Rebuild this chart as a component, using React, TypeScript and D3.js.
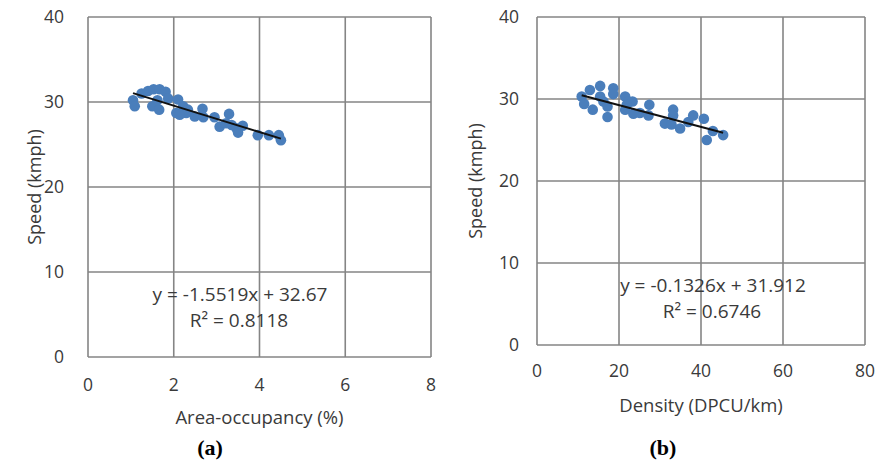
import React, { useEffect, useRef } from "react";
import * as d3 from "d3";

// panel (a): area occupancy (%) vs speed (kmph)
const occupancyX = [1.05, 1.09, 1.25, 1.4, 1.53, 1.67, 1.81, 1.5, 1.66, 1.62, 1.87, 2.1, 2.22, 2.06, 2.29, 2.49, 2.67, 2.69, 2.95, 3.07, 3.29, 3.35, 3.46, 3.5, 3.61, 3.96, 4.22, 4.45, 4.5, 3.22, 2.33, 2.14];
const occupancySpeed = [30.2, 29.5, 31.0, 31.3, 31.5, 31.5, 31.2, 29.5, 29.1, 30.2, 30.4, 30.3, 29.5, 28.7, 28.7, 28.3, 29.2, 28.2, 28.2, 27.1, 28.6, 27.3, 26.9, 26.4, 27.2, 26.1, 26.1, 26.1, 25.5, 27.5, 29.1, 28.5];

// panel (b): density (DPCU/km) vs speed (kmph)
const densityX = [10.9, 11.5, 12.9, 13.6, 15.4, 15.4, 16.2, 17.2, 17.2, 18.6, 18.6, 21.5, 21.5, 22.3, 23.3, 23.5, 25.1, 27.4, 27.2, 31.2, 33.2, 33.2, 32.8, 34.9, 36.9, 38.1, 40.7, 41.4, 42.9, 45.4, 21.9];
const densitySpeed = [30.3, 29.4, 31.1, 28.7, 31.6, 30.3, 29.7, 29.1, 27.8, 31.3, 30.6, 30.3, 28.7, 29.7, 29.7, 28.2, 28.3, 29.3, 28.0, 27.0, 28.7, 28.0, 26.9, 26.4, 27.2, 28.0, 27.6, 25.0, 26.1, 25.6, 29.3];

const speedTicks = [0, 10, 20, 30, 40];
const occupancyTicks = [0, 2, 4, 6, 8];
const densityTicks = [0, 20, 40, 60, 80];

const panels = [
  {
    xs: occupancyX, ys: occupancySpeed, xTicks: occupancyTicks, xMax: 8,
    slope: -1.5519, intercept: 32.67,
    eq: "y = -1.5519x + 32.67", r2: "R² = 0.8118",
    xTitle: "Area-occupancy (%)", tag: "(a)",
    box: { left: 88, right: 431, top: 17, bottom: 357 },
    yLabelX: 64, yTitleX: 35, xLabelY: 391, xTitleY: 424, eqX: 240, eqY: 301, r2Y: 327, tagX: 210,
  },
  {
    xs: densityX, ys: densitySpeed, xTicks: densityTicks, xMax: 80,
    slope: -0.1326, intercept: 31.912,
    eq: "y = -0.1326x + 31.912", r2: "R² = 0.6746",
    xTitle: "Density (DPCU/km)", tag: "(b)",
    box: { left: 537, right: 865, top: 17, bottom: 345 },
    yLabelX: 519, yTitleX: 476, xLabelY: 377, xTitleY: 412, eqX: 713, eqY: 292, r2Y: 318, tagX: 663,
  },
];

const font = "'Open Sans', sans-serif";
const grid = "#858585";
const ink = "#3a3a3a";

export default function App() {
  const svgRef = useRef<SVGSVGElement>(null);

  useEffect(() => {
    const svg = d3.select(svgRef.current);
    svg.selectAll("*").remove();

    panels.forEach(p => {
      const x = d3.scaleLinear().domain([0, p.xMax]).range([p.box.left, p.box.right]);
      const y = d3.scaleLinear().domain([0, 40]).range([p.box.bottom, p.box.top]);
      const g = svg.append("g");

      // grid
      g.selectAll(".vg").data(p.xTicks).enter().append("line")
        .attr("x1", d => x(d)).attr("x2", d => x(d))
        .attr("y1", y(0)).attr("y2", y(40))
        .attr("stroke", grid).attr("stroke-width", 1.6);
      g.selectAll(".hg").data(speedTicks).enter().append("line")
        .attr("x1", x(0)).attr("x2", x(p.xMax))
        .attr("y1", d => y(d)).attr("y2", d => y(d))
        .attr("stroke", grid).attr("stroke-width", 1.6);

      // tick labels
      g.selectAll(".yl").data(speedTicks).enter().append("text")
        .attr("x", p.yLabelX).attr("y", d => y(d)).attr("dy", "0.36em")
        .attr("text-anchor", "end").attr("font-family", font).attr("font-size", 17.5)
        .attr("fill", ink).text(d => d);
      g.selectAll(".xl").data(p.xTicks).enter().append("text")
        .attr("x", d => x(d)).attr("y", p.xLabelY)
        .attr("text-anchor", "middle").attr("font-family", font).attr("font-size", 17.5)
        .attr("fill", ink).text(d => d);

      // titles
      g.append("text")
        .attr("transform", `translate(${p.yTitleX},${(p.box.top + p.box.bottom) / 2}) rotate(-90)`)
        .attr("dy", "0.35em").attr("text-anchor", "middle")
        .attr("font-family", font).attr("font-size", 18).attr("fill", ink)
        .text("Speed (kmph)");
      g.append("text")
        .attr("x", (p.box.left + p.box.right) / 2).attr("y", p.xTitleY)
        .attr("text-anchor", "middle").attr("font-family", font).attr("font-size", 18.5)
        .attr("fill", ink).text(p.xTitle);
      g.append("text")
        .attr("x", p.tagX).attr("y", 455)
        .attr("text-anchor", "middle").attr("font-family", "'Liberation Serif', 'Times New Roman', serif")
        .attr("font-weight", "bold").attr("font-size", 22).attr("fill", "#000").text(p.tag);

      // points
      const pts = p.xs.map((v, i) => [v, p.ys[i]]);
      g.selectAll("circle").data(pts).enter().append("circle")
        .attr("cx", d => x(d[0])).attr("cy", d => y(d[1]))
        .attr("r", 5.3).attr("fill", "#4a7ebb");

      // trend line
      const [lo, hi] = d3.extent(p.xs) as [number, number];
      const line = d3.line<number>().x(d => x(d)).y(d => y(p.slope * d + p.intercept));
      g.append("path").datum([lo, hi]).attr("d", line)
        .attr("stroke", "#111").attr("stroke-width", 2).attr("fill", "none");

      // equation
      g.append("text").attr("x", p.eqX).attr("y", p.eqY)
        .attr("text-anchor", "middle").attr("font-family", font).attr("font-size", 19)
        .attr("fill", ink).text(p.eq);
      g.append("text").attr("x", p.eqX - 1).attr("y", p.r2Y)
        .attr("text-anchor", "middle").attr("font-family", font).attr("font-size", 19)
        .attr("fill", ink).text(p.r2);
    });
  }, []);

  return (
    <svg ref={svgRef} width={880} height={466}
      style={{ position: "absolute", left: 0, top: 0, background: "#fff" }} />
  );
}
